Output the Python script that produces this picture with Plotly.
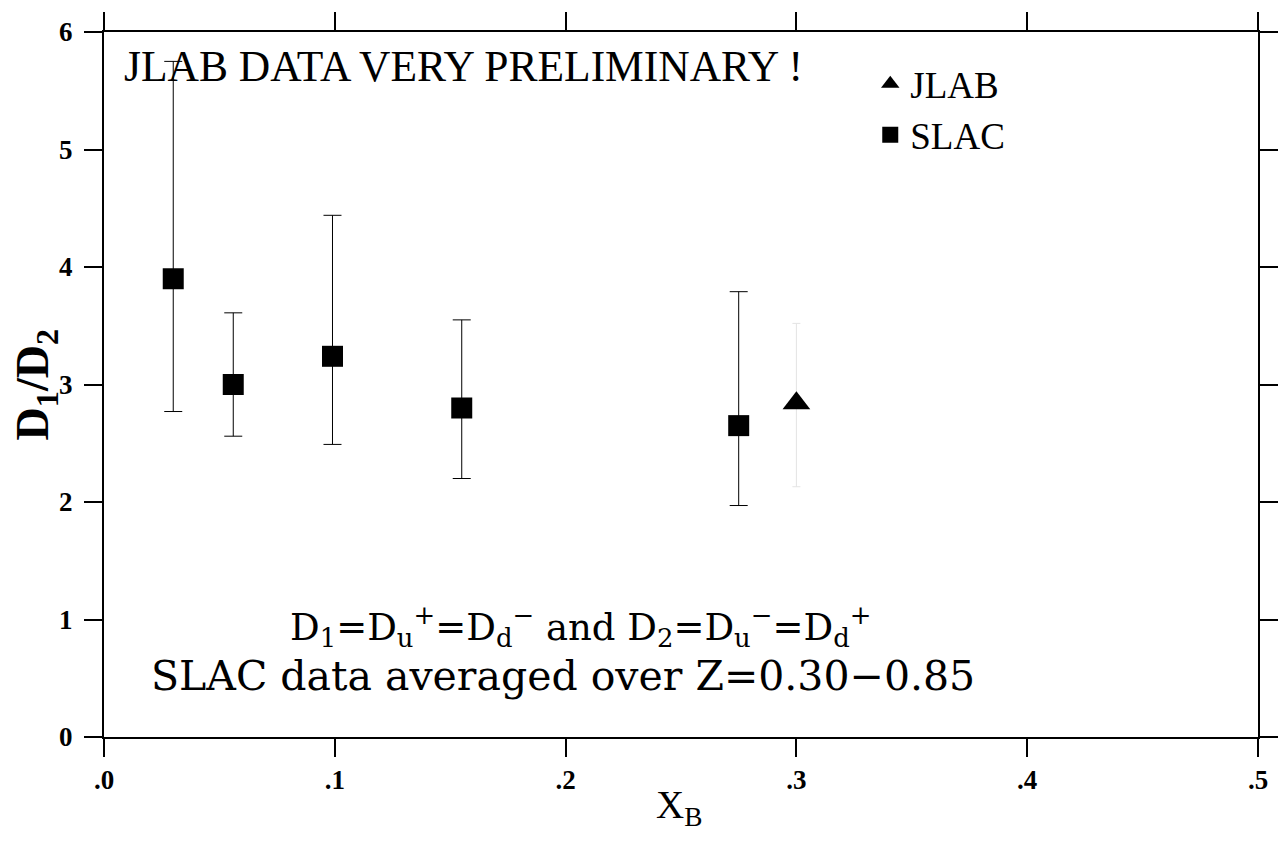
import plotly.graph_objects as go

# ---- data ----
slac_x = [0.030, 0.056, 0.099, 0.155, 0.275]
slac_y = [3.90, 3.00, 3.24, 2.80, 2.65]
slac_err_plus = [1.85, 0.61, 1.20, 0.75, 1.14]
slac_err_minus = [1.13, 0.44, 0.75, 0.60, 0.68]

jlab_x = [0.300]
jlab_y = [2.84]
jlab_err_plus = [0.68]
jlab_err_minus = [0.71]

x_tickvals = [0.0, 0.1, 0.2, 0.3, 0.4, 0.5]
x_ticktext = [".0", ".1", ".2", ".3", ".4", ".5"]
y_tickvals = [0, 1, 2, 3, 4, 5, 6]

SERIF = "Liberation Serif, DejaVu Serif, serif"
WIDE_SERIF = "DejaVu Serif, Liberation Serif, serif"

fig = go.Figure()

fig.add_trace(go.Scatter(
    x=jlab_x, y=jlab_y, mode="markers", name="JLAB",
    marker=dict(symbol="triangle-up", size=24, color="black"),
    error_y=dict(type="data", symmetric=False, array=jlab_err_plus,
                 arrayminus=jlab_err_minus, color="#e4e4e4", thickness=1, width=4),
))
fig.add_trace(go.Scatter(
    x=slac_x, y=slac_y, mode="markers", name="SLAC",
    marker=dict(symbol="square", size=21, color="black"),
    error_y=dict(type="data", symmetric=False, array=slac_err_plus,
                 arrayminus=slac_err_minus, color="black", thickness=1, width=9),
))

axis_common = dict(
    showline=True, linecolor="black", linewidth=2, mirror="allticks",
    ticks="outside", ticklen=18, tickwidth=2, tickcolor="black",
    showgrid=False, zeroline=False, automargin=False,
    tickfont=dict(family=SERIF, size=27, color="black", weight="bold"),
)

fig.update_layout(
    width=1272, height=827,
    margin=dict(l=96, r=22, t=24, b=98, autoexpand=False),
    paper_bgcolor="white", plot_bgcolor="white",
    xaxis=dict(range=[0, 0.5], tickvals=x_tickvals, ticktext=x_ticktext,
               **axis_common),
    yaxis=dict(range=[0, 6], tickvals=y_tickvals, ticklabelstandoff=6,
               **axis_common),
    showlegend=True,
    legend=dict(x=0.664, y=0.97, xanchor="left", yanchor="top",
                bgcolor="rgba(0,0,0,0)", borderwidth=0,
                font=dict(family=SERIF, size=37, color="black"),
                itemsizing="trace", traceorder="normal"),
    annotations=[
        # axis titles
        dict(text="X<sub>B</sub>", xref="paper", yref="paper",
             x=0.498, y=-0.1, xanchor="center", yanchor="middle", showarrow=False,
             font=dict(family=SERIF, size=39, color="black")),
        dict(text="D<sub>1</sub>/D<sub>2</sub>", xref="paper", yref="paper",
             x=-0.059, y=0.5, xanchor="center", yanchor="middle", showarrow=False,
             textangle=-90,
             font=dict(family=SERIF, size=46, color="black", weight="bold")),
        # in-plot texts
        dict(text="JLAB DATA VERY PRELIMINARY !", xref="paper", yref="paper",
             x=0.016, y=0.952, xanchor="left", yanchor="middle", showarrow=False,
             font=dict(family=SERIF, size=43.5, color="black")),
        dict(text="D<sub>1</sub>=D<sub>u</sub><sup>+</sup>=D<sub>d</sub><sup>\u2212</sup> and "
                  "D<sub>2</sub>=D<sub>u</sub><sup>\u2212</sup>=D<sub>d</sub><sup>+</sup>",
             xref="paper", yref="paper", x=0.4125, y=0.157, xanchor="center", yanchor="middle",
             showarrow=False, font=dict(family=WIDE_SERIF, size=37, color="black")),
        dict(text="SLAC data averaged over Z=0.30\u22120.85",
             xref="paper", yref="paper", x=0.398, y=0.0865, xanchor="center", yanchor="middle",
             showarrow=False, font=dict(family=WIDE_SERIF, size=41, color="black")),
    ],
)

fig.write_html("out.html")
